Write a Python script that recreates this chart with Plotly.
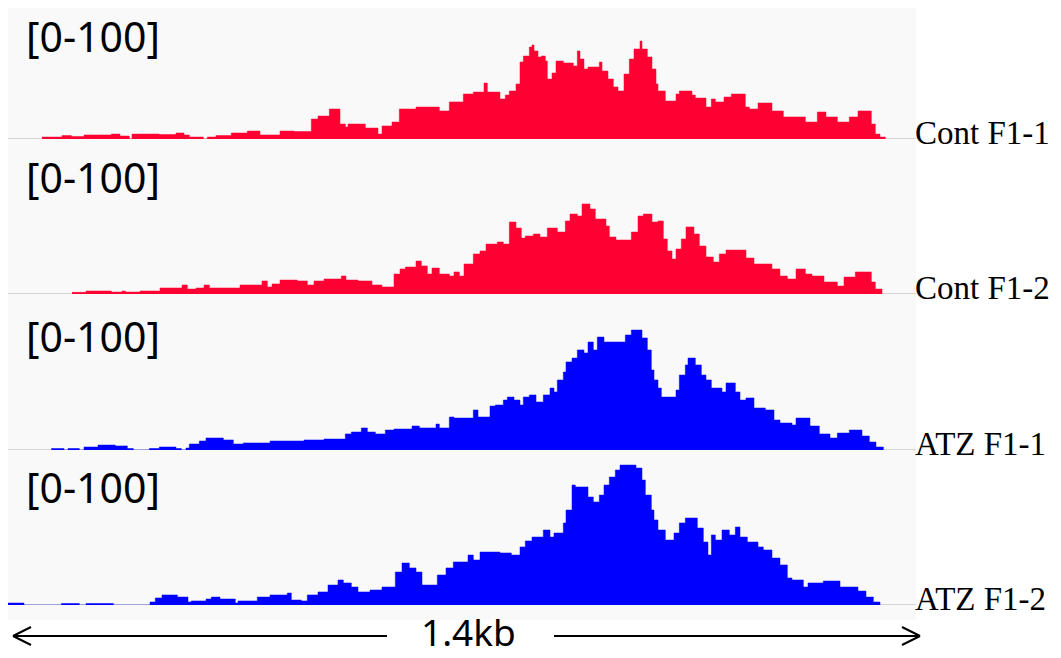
import plotly.graph_objects as go

# ---------------- data ----------------
track_names = ["Cont F1-1", "Cont F1-2", "ATZ F1-1", "ATZ F1-2"]
track_colors = ["#ff0033", "#ff0033", "#0000ff", "#0000ff"]
range_label = "[0-100]"
window_label = "1.4kb"
window_bp = 1362  # displayed window length (bp)

# coverage step starts (bp) and values (0-100 scale)
cont1_pos = [51, 81, 95, 114, 155, 168, 182, 186, 227, 252, 264, 272, 293, 299, 312, 335, 359, 378, 408, 429,
             455, 465, 482, 498, 506, 510, 536, 555, 561, 576, 587, 612, 647, 662, 683, 698, 714, 719, 738, 746,
             752, 762, 768, 773, 782, 786, 789, 795, 800, 806, 809, 816, 822, 833, 848, 854, 858, 864, 870, 887,
             891, 900, 908, 915, 924, 932, 939, 948, 951, 959, 966, 972, 975, 986, 1002, 1007, 1026, 1031, 1047, 1055,
             1061, 1074, 1085, 1106, 1112, 1125, 1146, 1163, 1196, 1214, 1227, 1244, 1262, 1275, 1295, 1301, 1308, 1316]
cont1_val = [1.3, 2.3, 1.7, 2.7, 3.3, 2.0, 0.0, 3.3, 3.0, 4.0, 2.7, 1.3, 0.0, 1.3, 2.3, 4.0, 5.3, 2.7, 5.3, 5.0,
             13.3, 15.3, 20.0, 10.0, 8.0, 10.0, 7.3, 3.3, 8.7, 11.3, 20.0, 21.3, 18.7, 24.7, 30.0, 31.3, 37.3, 31.3, 26.7, 29.3,
             32.0, 36.7, 51.3, 55.3, 61.3, 62.7, 58.7, 54.7, 55.3, 52.0, 40.0, 44.0, 52.0, 50.7, 48.7, 58.7, 53.3, 46.7, 48.0, 51.3,
             45.3, 40.0, 34.7, 32.0, 43.3, 53.3, 60.0, 65.3, 60.0, 54.7, 46.7, 36.7, 32.0, 25.3, 30.0, 32.0, 29.3, 27.3, 21.3, 26.7,
             24.7, 28.0, 30.0, 21.3, 20.0, 24.0, 18.7, 14.7, 11.3, 18.0, 14.7, 11.3, 14.7, 18.7, 10.0, 3.3, 1.3, 0.0]

cont2_pos = [96, 117, 155, 171, 176, 198, 228, 261, 269, 282, 294, 302, 348, 381, 389, 396, 408, 434, 449, 459,
             474, 500, 507, 525, 546, 561, 579, 588, 596, 612, 620, 629, 636, 647, 662, 669, 677, 684, 698, 708,
             717, 734, 743, 752, 762, 770, 776, 788, 798, 809, 824, 836, 843, 854, 861, 873, 881, 897, 902, 912,
             935, 945, 953, 966, 975, 983, 989, 996, 1002, 1010, 1017, 1029, 1037, 1047, 1058, 1067, 1077, 1107, 1119, 1146,
             1158, 1169, 1182, 1196, 1206, 1224, 1244, 1254, 1271, 1295, 1301, 1311]
cont2_val = [1.1, 2.0, 1.3, 2.0, 1.3, 2.0, 4.0, 6.0, 3.3, 4.0, 6.0, 4.0, 6.0, 8.7, 4.7, 6.7, 9.3, 8.7, 6.0, 8.7,
             10.0, 12.0, 9.3, 8.7, 6.0, 4.7, 13.3, 16.7, 18.0, 22.0, 18.7, 13.3, 17.3, 13.3, 12.0, 14.7, 12.0, 20.0, 26.7, 28.7,
             33.3, 34.7, 33.3, 48.0, 44.0, 37.3, 38.7, 40.0, 38.0, 44.0, 41.3, 48.7, 53.3, 52.0, 60.0, 56.7, 50.0, 45.3, 38.0, 36.0,
             41.3, 52.0, 53.3, 48.0, 48.7, 36.7, 28.7, 23.3, 30.0, 36.7, 44.7, 40.0, 32.0, 24.7, 21.3, 26.7, 29.3, 24.0, 20.0, 16.7,
             12.0, 10.0, 16.7, 13.3, 12.0, 8.0, 5.3, 11.3, 14.7, 8.0, 3.3, 0.0]

atz1_pos = [65, 84, 90, 107, 114, 135, 161, 179, 188, 212, 227, 252, 260, 267, 272, 287, 297, 323, 338, 353,
            393, 444, 474, 506, 515, 530, 539, 551, 566, 579, 606, 617, 642, 647, 662, 669, 698, 705, 723, 731,
            743, 749, 759, 768, 773, 782, 792, 803, 813, 819, 824, 833, 837, 846, 854, 864, 870, 878, 884, 894,
            926, 935, 951, 959, 965, 969, 975, 980, 1002, 1007, 1016, 1020, 1031, 1040, 1047, 1055, 1071, 1077, 1091, 1098,
            1107, 1119, 1136, 1149, 1158, 1176, 1182, 1203, 1217, 1233, 1244, 1262, 1281, 1292, 1302, 1313]
atz1_val = [1.0, 0.0, 1.0, 0.0, 2.0, 3.3, 2.7, 1.0, 0.0, 1.0, 2.0, 1.0, 0.0, 1.3, 4.0, 6.0, 8.0, 6.7, 4.0, 4.7,
            6.0, 6.7, 7.3, 10.7, 12.0, 14.7, 12.0, 10.7, 13.3, 14.0, 16.0, 14.7, 17.3, 14.7, 22.0, 21.3, 26.7, 22.0, 29.3, 30.0,
            33.3, 35.3, 33.3, 30.0, 35.3, 36.7, 32.0, 36.7, 41.3, 38.7, 46.7, 52.0, 58.7, 61.3, 66.7, 64.7, 72.0, 66.7, 75.3, 72.0,
            76.7, 80.0, 74.7, 66.7, 53.3, 46.7, 41.3, 35.3, 40.0, 50.0, 56.7, 61.3, 56.7, 50.0, 46.7, 41.3, 38.7, 44.7, 38.7, 33.3,
            34.7, 28.0, 26.7, 20.0, 18.0, 16.7, 21.3, 16.0, 10.7, 8.0, 11.3, 13.3, 9.3, 5.3, 2.0, 0.0]

atz2_pos = [0, 24, 80, 107, 117, 158, 213, 221, 231, 254, 270, 275, 297, 305, 318, 341, 345, 374, 393, 419,
            425, 440, 449, 465, 480, 495, 503, 515, 525, 543, 561, 581, 591, 602, 612, 621, 644, 657, 668, 690,
            698, 708, 738, 755, 768, 776, 786, 803, 813, 819, 833, 837, 846, 851, 870, 878, 887, 894, 902, 911,
            918, 942, 951, 956, 965, 969, 975, 986, 999, 1007, 1016, 1034, 1043, 1050, 1055, 1061, 1071, 1082, 1091, 1098,
            1109, 1125, 1133, 1146, 1158, 1169, 1176, 1193, 1200, 1223, 1248, 1275, 1287, 1298, 1308]
atz2_val = [1.3, 0.0, 1.0, 0.0, 1.0, 0.0, 2.0, 4.7, 6.7, 5.3, 2.0, 2.7, 4.0, 5.3, 4.0, 1.3, 2.7, 5.3, 6.7, 8.0,
            3.3, 2.7, 6.7, 8.7, 13.3, 16.7, 14.7, 12.0, 8.7, 10.0, 12.0, 22.0, 28.0, 24.7, 22.0, 13.3, 20.0, 24.7, 28.7, 33.3,
            30.0, 35.3, 34.7, 33.3, 38.7, 42.7, 45.3, 50.0, 45.3, 48.0, 54.7, 63.3, 80.0, 78.7, 72.0, 68.7, 73.3, 80.0, 85.3, 90.0,
            93.3, 91.3, 83.3, 73.3, 63.3, 56.7, 50.0, 43.3, 48.0, 54.7, 58.0, 51.3, 42.0, 33.3, 46.7, 43.3, 50.0, 46.7, 52.0, 45.3,
            42.0, 38.7, 36.7, 31.3, 26.7, 18.0, 16.7, 12.0, 14.7, 16.0, 12.0, 9.3, 5.3, 2.0, 0.0]

track_pos = [cont1_pos, cont2_pos, atz1_pos, atz2_pos]
track_val = [cont1_val, cont2_val, atz1_val, atz2_val]

# ---------------- layout geometry (page pixels) ----------------
W, H = 1061, 658
OFF = 8                      # page body margin around the figure
FW, FH = W - OFF, H - OFF    # figure size
PANEL_L, PANEL_R, PANEL_T, PANEL_B = 8, 916, 5, 620
BASELINES = [139, 294, 450, 605]
TRACK_PX = 150               # pixels for a full 0-100 track
RANGE_LABEL_Y = [36, 177, 336, 487]
NAME_LABEL_Y = [133, 288, 444, 599]
ARROW_Y = 636


def fx(px):
    return (px - OFF) / FW


def fy(py):
    return min(1.0, 1 - (py - OFF) / FH)


fig = go.Figure()

for i, (pos, val, col) in enumerate(zip(track_pos, track_val, track_colors)):
    yname = "y" if i == 0 else f"y{i + 1}"
    fig.add_trace(go.Scatter(
        x=pos, y=val, mode="lines", line=dict(shape="hv", width=0.5, color=col),
        fill="tozeroy", fillcolor=col, xaxis="x", yaxis=yname,
        hoverinfo="skip", showlegend=False))

layout_axes = {}
for i, b in enumerate(BASELINES):
    top_px = b - TRACK_PX
    if top_px < OFF:
        dom_top = 1.0
        rmax = 100 * (b - OFF) / TRACK_PX
    else:
        dom_top = fy(top_px)
        rmax = 100
    key = "yaxis" if i == 0 else f"yaxis{i + 1}"
    layout_axes[key] = dict(domain=[fy(b), dom_top], range=[0, rmax], visible=False,
                            fixedrange=True, anchor="x")

shapes = [dict(type="rect", xref="paper", yref="paper", x0=fx(PANEL_L), x1=fx(PANEL_R),
               y0=fy(PANEL_B), y1=fy(PANEL_T), fillcolor="#f9f9f9", line=dict(width=0), layer="below")]
for i in range(4):
    yname = "y" if i == 0 else f"y{i + 1}"
    shapes.append(dict(type="line", xref="x", yref=yname, x0=0, x1=window_bp, y0=0, y1=0,
                       line=dict(color="#c8c8c8", width=1.5), layer="below"))

# scale arrows
line_style = dict(color="black", width=2)
shapes.append(dict(type="line", xref="paper", yref="paper", x0=fx(13), x1=fx(387),
                   y0=fy(ARROW_Y), y1=fy(ARROW_Y), line=line_style))
shapes.append(dict(type="line", xref="paper", yref="paper", x0=fx(554), x1=fx(920),
                   y0=fy(ARROW_Y), y1=fy(ARROW_Y), line=line_style))
for tip, back in [(13, 31), (920, 902)]:
    for dy in (-9, 9):
        shapes.append(dict(type="line", xref="paper", yref="paper", x0=fx(tip), x1=fx(back),
                           y0=fy(ARROW_Y), y1=fy(ARROW_Y + dy), line=line_style))

annotations = []
for i in range(4):
    annotations.append(dict(text=range_label, xref="paper", yref="paper", x=fx(24), y=fy(RANGE_LABEL_Y[i]),
                            xanchor="left", yanchor="middle", showarrow=False,
                            font=dict(family="Noto Sans", size=41, color="black")))
    annotations.append(dict(text=track_names[i], xref="paper", yref="paper", x=fx(913), y=fy(NAME_LABEL_Y[i]),
                            xanchor="left", yanchor="middle", showarrow=False,
                            font=dict(family="Liberation Serif", size=33, color="black")))
annotations.append(dict(text=window_label, xref="paper", yref="paper", x=fx(468), y=fy(631),
                        xanchor="center", yanchor="middle", showarrow=False, borderpad=0,
                        font=dict(family="Noto Sans", size=37, color="black")))

fig.update_layout(
    width=FW, height=FH, margin=dict(l=0, r=0, t=0, b=0),
    paper_bgcolor="white", plot_bgcolor="rgba(0,0,0,0)",
    xaxis=dict(domain=[fx(PANEL_L), fx(PANEL_R)], range=[0, window_bp], visible=False, fixedrange=True),
    shapes=shapes, annotations=annotations, showlegend=False,
    **layout_axes)

fig.write_html("out.html")
